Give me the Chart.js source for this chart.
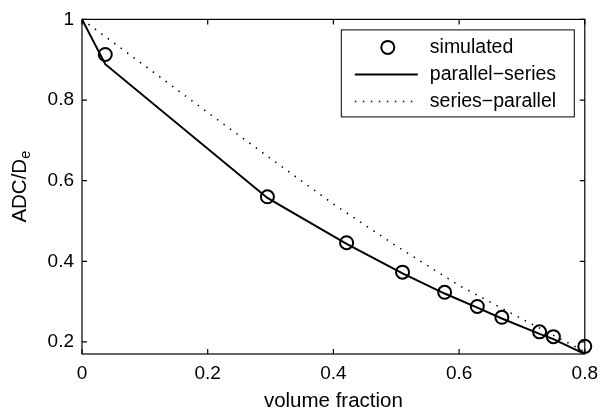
<!DOCTYPE html>
<html>
<head>
<meta charset="utf-8">
<script src="https://cdn.jsdelivr.net/npm/chart.js@4.4.0/dist/chart.umd.min.js"></script>
<style>
    html, body { margin: 0; padding: 0; background: #fff; }
</style>
</head>
<body>
<canvas id="adc-chart" width="606" height="414"></canvas>
<script>(function() { "use strict";

    // simulated points
    var sim_x = [0.037, 0.295, 0.421, 0.510, 0.577, 0.629, 0.668, 0.728, 0.750, 0.800];
    var sim_y = [0.913, 0.560, 0.446, 0.373, 0.323, 0.288, 0.261, 0.225, 0.213, 0.189];

    // parallel-series model
    var ps_x = [0, 0.037, 0.295, 0.421, 0.510, 0.577, 0.629, 0.668, 0.728, 0.750, 0.800];
    var ps_y = [1, 0.889, 0.557, 0.443, 0.370, 0.320, 0.285, 0.258, 0.220, 0.207, 0.170];

    // series-parallel model
    var sp_x = [0, 0.1, 0.2, 0.3, 0.4, 0.5, 0.6, 0.7, 0.8];
    var sp_y = [1, 0.885, 0.769, 0.655, 0.542, 0.438, 0.340, 0.257, 0.176];

    var x_ticks = [0, 0.2, 0.4, 0.6, 0.8];
    var y_ticks = [0.2, 0.4, 0.6, 0.8, 1];

    var legend_labels = ['simulated', 'parallel\u2212series', 'series\u2212parallel'];

    var font_family = '"Liberation Sans", Arial, Helvetica, sans-serif';
    var font_size = 19;
    var title_size = 20.5;
    var legend_size = 19.5;

    function toPoints(xs, ys) {
        return xs.map(function(x, i) { return { x: x, y: ys[i] }; });
    }

    function fmt(v) {
        return v === 0 ? '0' : String(Math.round(v * 10) / 10);
    }

    // box, inward ticks, legend and y title
    var matlabLook = {
        id: 'matlabLook',
        afterDraw: function(chart) {
            var ctx = chart.ctx,
                area = chart.chartArea,
                xs = chart.scales.x,
                ys = chart.scales.y,
                tl = 5;

            ctx.save();
            ctx.strokeStyle = '#000';
            ctx.lineWidth = 1.2;
            ctx.strokeRect(area.left, area.top, area.right - area.left, area.bottom - area.top);

            ctx.beginPath();
            x_ticks.forEach(function(v) {
                var px = xs.getPixelForValue(v);
                ctx.moveTo(px, area.bottom); ctx.lineTo(px, area.bottom - tl);
                ctx.moveTo(px, area.top); ctx.lineTo(px, area.top + tl);
            });
            y_ticks.forEach(function(v) {
                var py = ys.getPixelForValue(v);
                ctx.moveTo(area.left, py); ctx.lineTo(area.left + tl, py);
                ctx.moveTo(area.right, py); ctx.lineTo(area.right - tl, py);
            });
            ctx.stroke();

            // legend
            var bw = 233, bh = 87,
                bx = area.right - 11 - bw,
                by = area.top + 10;
            ctx.fillStyle = '#fff';
            ctx.fillRect(bx, by, bw, bh);
            ctx.lineWidth = 1;
            ctx.strokeRect(bx + 0.5, by + 0.5, bw, bh);

            ctx.font = legend_size + 'px ' + font_family;
            ctx.textBaseline = 'middle';
            ctx.textAlign = 'left';
            ctx.fillStyle = '#000';

            chart.data.datasets.forEach(function(ds, i) {
                var ry = by + 18 + i * 27;
                ctx.save();
                ctx.strokeStyle = '#000';
                if (ds.showLine === false) {
                    ctx.lineWidth = ds.pointBorderWidth;
                    ctx.beginPath();
                    ctx.arc(bx + 47, ry, ds.pointRadius, 0, Math.PI * 2);
                    ctx.stroke();
                } else {
                    ctx.lineWidth = ds.borderWidth;
                    ctx.setLineDash(ds.borderDash || []);
                    ctx.beginPath();
                    ctx.moveTo(bx + 14, ry);
                    ctx.lineTo(bx + 77, ry);
                    ctx.stroke();
                }
                ctx.restore();
                ctx.fillText(ds.label, bx + 89, ry);
            });

            // y title with subscript
            var main = 'ADC/D', sub = 'e', sub_size = 14.5;
            ctx.font = title_size + 'px ' + font_family;
            var w1 = ctx.measureText(main).width;
            ctx.font = sub_size + 'px ' + font_family;
            var w2 = ctx.measureText(sub).width;
            var cy = (area.top + area.bottom) / 2;
            ctx.translate(26, cy);
            ctx.rotate(-Math.PI / 2);
            ctx.textBaseline = 'alphabetic';
            ctx.font = title_size + 'px ' + font_family;
            ctx.fillText(main, -(w1 + w2) / 2, 0);
            ctx.font = sub_size + 'px ' + font_family;
            ctx.fillText(sub, -(w1 + w2) / 2 + w1, 4);
            ctx.restore();
        }
    };

    var adc_chart = new Chart(document.getElementById('adc-chart'), {
        type: 'scatter',
        data: {
            datasets: [{
                label: legend_labels[0],
                data: toPoints(sim_x, sim_y),
                showLine: false,
                clip: false,
                pointStyle: 'circle',
                pointRadius: 6.5,
                pointBorderWidth: 2,
                pointBorderColor: '#000',
                pointBackgroundColor: 'rgba(0,0,0,0)',
                order: 3
            }, {
                label: legend_labels[1],
                data: toPoints(ps_x, ps_y),
                showLine: true,
                borderColor: '#000',
                borderWidth: 2,
                pointRadius: 0,
                tension: 0,
                order: 2
            }, {
                label: legend_labels[2],
                data: toPoints(sp_x, sp_y),
                showLine: true,
                borderColor: '#000',
                borderWidth: 1.5,
                borderDash: [1.5, 6.5],
                pointRadius: 0,
                tension: 0,
                order: 1
            }]
        },
        options: {
            responsive: false,
            animation: false,
            layout: { padding: { top: 15, right: 19, left: 0, bottom: 0 } },
            plugins: {
                legend: { display: false },
                tooltip: { enabled: false }
            },
            scales: {
                x: {
                    type: 'linear',
                    min: 0,
                    max: 0.8,
                    grid: { display: false, drawTicks: false },
                    border: { display: false },
                    afterBuildTicks: function(scale) {
                        scale.ticks = x_ticks.map(function(v) { return { value: v }; });
                    },
                    afterFit: function(scale) { scale.height = 60; },
                    ticks: {
                        color: '#000',
                        padding: 8,
                        maxRotation: 0,
                        font: { family: font_family, size: font_size },
                        callback: function(v) { return fmt(v); }
                    },
                    title: {
                        display: true,
                        text: 'volume fraction',
                        color: '#000',
                        padding: { top: 1, bottom: 0 },
                        font: { family: font_family, size: title_size }
                    }
                },
                y: {
                    type: 'linear',
                    min: 0.17,
                    max: 1,
                    grid: { display: false, drawTicks: false },
                    border: { display: false },
                    afterBuildTicks: function(scale) {
                        scale.ticks = y_ticks.map(function(v) { return { value: v }; });
                    },
                    afterFit: function(scale) { scale.width = 82; },
                    ticks: {
                        color: '#000',
                        padding: 8,
                        font: { family: font_family, size: font_size },
                        callback: function(v) { return fmt(v); }
                    }
                }
            }
        },
        plugins: [matlabLook]
    });

})();</script>
</body>
</html>
